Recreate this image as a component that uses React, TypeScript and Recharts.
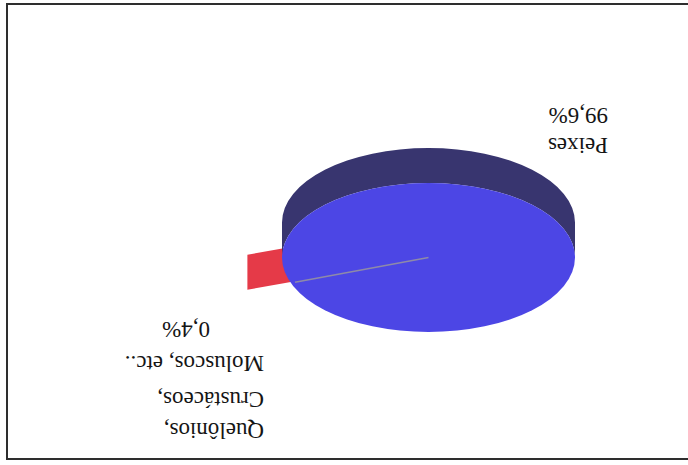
import React from 'react';
import { PieChart, Pie } from 'recharts';

// ---- data ----
const categories = ['Quelônios, Crustáceos, Moluscos, etc..', 'Peixes'];
const values = [0.4, 99.6];
const labelLines = [['Quelônios,', 'Crustáceos,', 'Moluscos, etc..'], ['Peixes']];
const topColors = ['#e53a48', '#4c46e5'];
const sideColors = ['#e53a48', '#38356f'];

const data = categories.map((name, i) => ({
  name,
  value: values[i],
  fill: topColors[i],
  side: sideColors[i],
  lines: labelLines[i],
}));

// ---- layout ----
const W = 688;
const H = 465;
const CX = 259.5;
const CY = 207.5;
const R = 146.5;
const RY_RATIO = 74.5 / 146.5;
const DEPTH = 35;
const EXPLODE = 0.31;
const START = 18.6;
const RAD = Math.PI / 180;

function SliceShape(props: any) {
  const { cx, cy, outerRadius, startAngle, endAngle, fill } = props;
  const side = props.side ?? props.payload?.side ?? fill;
  const rx = outerRadius;
  const ry = outerRadius * RY_RATIO;
  const span = Math.abs(endAngle - startAngle);
  const pt = (a: number, r: number, dy = 0) => [
    cx + r * rx * Math.cos(a * RAD),
    cy - r * ry * Math.sin(a * RAD) + dy,
  ];
  if (span < 180) {
    const m = (startAngle + endAngle) / 2;
    const a = pt(m, EXPLODE);
    const b = pt(m, 1 + EXPLODE);
    const c = pt(m, 1 + EXPLODE, DEPTH);
    const d = pt(m, EXPLODE, DEPTH);
    return (
      <polygon
        points={[a, b, c, d].map((p) => p.join(',')).join(' ')}
        fill={fill}
      />
    );
  }
  const sidePath = `M${cx - rx},${cy} A${rx},${ry} 0 0 0 ${cx + rx},${cy} L${cx + rx},${cy + DEPTH} A${rx},${ry} 0 0 1 ${cx - rx},${cy + DEPTH} Z`;
  const e = pt(startAngle, 0.97);
  return (
    <g>
      <path d={sidePath} fill={side} />
      <ellipse cx={cx} cy={cy} rx={rx} ry={ry} fill={fill} />
      <line x1={cx} y1={cy} x2={e[0]} y2={e[1]} stroke="#8e8aa8" strokeWidth={1.6} />
    </g>
  );
}

const fmtPct = (v: number) => v.toFixed(1).replace('.', ',') + '%';

function renderLabel(p: any) {
  const idx = p.index;
  const lines: string[] = (p.payload?.lines ?? p.lines ?? []) as string[];
  const pct = fmtPct(values[idx]);
  const style = { fontFamily: '"Liberation Serif", "Times New Roman", serif', fontSize: 23, fill: '#151515' };
  if (idx === 0) {
    const baselines = [42, 73, 109];
    return (
      <g>
        {lines.map((t, i) => (
          <text key={i} x={p.cx + 164.5} y={p.cy - 207.5 + baselines[i]} textAnchor="start" style={style}>
            {t}
          </text>
        ))}
        <text x={p.cx + 218.5} y={p.cy - 207.5 + 143} textAnchor="start" style={style}>
          {pct}
        </text>
      </g>
    );
  }
  return (
    <g>
      {lines.map((t, i) => (
        <text key={i} x={p.cx - 179.5} y={p.cy + 119.5} textAnchor="start" style={style}>
          {t}
        </text>
      ))}
      <text x={p.cx - 179.5} y={p.cy + 149.5} textAnchor="start" style={style}>
        {pct}
      </text>
    </g>
  );
}

export default function App() {
  return (
    <div
      style={{
        position: 'absolute',
        left: 0,
        top: 0,
        width: W,
        height: H,
        background: '#ffffff',
        transform: 'rotate(180deg)',
        overflow: 'hidden',
      }}
    >
      <div
        style={{
          position: 'absolute',
          left: -10,
          top: 5,
          width: 692,
          height: 457,
          boxSizing: 'border-box',
          border: '2px solid #2e2e2e',
        }}
      />
      <div style={{ position: 'absolute', left: 0, top: 0 }}>
        <PieChart width={W} height={H} margin={{ top: 0, right: 0, bottom: 0, left: 0 }}>
          <Pie
            data={data}
            dataKey="value"
            nameKey="name"
            cx={CX}
            cy={CY}
            outerRadius={R}
            startAngle={START}
            endAngle={START + 360}
            shape={SliceShape}
            label={renderLabel}
            labelLine={false}
            isAnimationActive={false}
            stroke="none"
          />
        </PieChart>
      </div>
    </div>
  );
}
